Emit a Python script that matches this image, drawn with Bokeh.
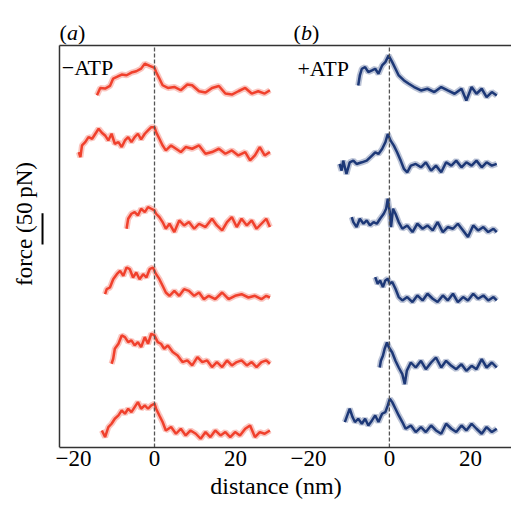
from bokeh.plotting import figure
from bokeh.models import Range1d, LinearAxis, FixedTicker, Label
from bokeh.embed import file_html
from bokeh.resources import INLINE

# ---------------- data: distance (nm) and force (pN, relative to each trace's baseline)
# panel (a) -ATP
a1_x = [-14.2,-13.4,-12.2,-11.0,-10.2,-9.3,-8.1,-6.9,-5.7,-4.5,-3.3,-2.4,-1.2,0.0,0.4,1.2,2.0,3.3,4.9,6.5,8.1,9.3,11.0,12.6,14.2,15.9,17.5,19.1,20.7,22.4,24.0,25.6,27.2,28.5]
a1_f = [-6.4,5.3,4.3,8.5,20.3,22.9,26.7,25.6,29.9,32.0,36.2,44.2,40.5,37.3,30.9,20.3,9.6,5.3,6.9,1.6,10.7,9.6,0,-2.1,5.3,8.5,-3.7,-5.3,0,5.3,-3.7,0,-3.7,1.6]
a2_x = [-18.7,-18.3,-17.9,-17.1,-16.3,-15.4,-14.6,-13.8,-13.0,-12.2,-11.4,-10.6,-9.8,-8.9,-8.1,-7.3,-6.5,-5.7,-4.9,-4.1,-3.3,-2.4,-1.6,-0.8,0.0,0.4,1.2,2.0,2.8,4.1,5.3,6.5,7.7,9.3,11.0,12.6,14.2,15.9,17.5,19.1,20.7,22.4,23.6,24.8,26.0,27.2,28.5]
a2_f = [2.7,-5.3,13.3,18.7,26.7,24.0,32.0,40.0,33.6,29.3,21.3,32.0,16.0,18.7,10.7,21.3,26.7,18.7,26.7,32.0,22.9,32.0,37.3,42.6,42.6,34.6,24.0,13.3,5.3,13.3,8.0,2.7,10.7,8.0,13.3,0,2.7,8.0,0,5.3,-2.7,2.7,-10.7,-2.7,10.7,-2.7,2.7]
a3_x = [-6.9,-6.5,-5.7,-4.9,-4.1,-3.3,-2.4,-1.6,-0.8,0.0,0.4,1.2,2.0,2.8,3.7,4.9,6.1,7.3,8.5,9.8,11.0,12.6,14.2,15.4,16.7,17.9,19.1,20.3,21.5,22.8,24.0,25.2,26.4,27.6,28.5]
a3_f = [-8.0,8.0,16.0,18.7,13.3,24.0,18.7,26.7,24.0,21.3,16.0,10.7,2.7,-8.0,0,-13.3,5.3,-2.7,2.7,-8.0,0,-5.3,8.0,-2.7,-10.7,2.7,10.7,-5.3,8.0,-2.7,5.3,-8.0,0,8.0,-5.3]
a4_x = [-12.2,-11.8,-11.0,-10.2,-9.3,-8.5,-7.7,-6.9,-6.1,-5.3,-4.5,-3.7,-2.8,-2.0,-1.2,-0.4,0.4,1.2,2.0,2.8,3.7,4.9,6.1,7.3,8.5,9.8,11.0,12.2,13.4,15.0,16.7,18.3,19.9,21.5,23.2,24.8,26.4,27.6,28.5]
a4_f = [5.3,13.3,16.0,29.3,37.3,42.6,34.6,48.0,45.3,32.0,40.0,29.3,37.3,32.0,45.3,48.0,37.3,29.3,18.7,8.0,2.7,10.7,2.7,13.3,10.7,2.7,8.0,-2.7,2.7,-2.7,8.0,-2.7,2.7,5.3,0,2.7,-2.7,2.7,0]
a5_x = [-10.6,-10.2,-9.8,-8.9,-8.1,-7.3,-6.5,-5.7,-4.9,-4.1,-3.3,-2.4,-1.6,-0.8,0.0,0.8,1.6,2.4,3.3,4.5,5.7,6.9,8.1,9.3,10.6,11.8,13.0,14.2,15.4,16.7,17.9,19.1,20.3,21.5,22.8,24.0,25.2,26.4,27.6,28.5]
a5_f = [0,8.0,24.0,32.0,45.3,42.6,34.6,37.3,29.3,34.6,26.7,42.6,32.0,48.0,45.3,34.6,32.0,24.0,29.3,18.7,13.3,2.7,5.3,-2.7,10.7,2.7,5.3,-5.3,2.7,-5.3,5.3,-2.7,2.7,5.3,-2.7,2.7,-5.3,2.7,5.3,0]
a6_x = [-13.0,-12.2,-11.4,-10.6,-9.8,-8.9,-8.1,-7.3,-6.5,-5.7,-4.9,-4.1,-3.3,-2.4,-1.6,-0.8,0.0,0.4,1.2,2.0,2.8,4.1,5.3,6.5,7.7,8.9,10.2,11.4,12.6,13.8,15.0,16.3,17.5,18.7,19.9,21.1,22.4,23.6,24.8,26.0,27.2,28.5]
a6_f = [5.3,-5.3,10.7,16.0,24.0,29.3,37.3,32.0,40.0,34.6,42.6,50.6,40.0,45.3,40.0,45.3,48.0,40.0,29.3,18.7,5.3,10.7,0,8.0,-2.7,5.3,0,-8.0,2.7,-5.3,5.3,-2.7,2.7,-5.3,2.7,-2.7,8.0,13.3,-5.3,2.7,0,5.3]

# panel (b) +ATP
b1_x = [-7.7,-7.3,-6.8,-6.0,-5.2,-4.3,-3.5,-2.7,-1.8,-1.0,-0.2,0.7,1.5,2.3,3.6,4.8,6.1,7.8,9.4,11.1,12.8,14.4,16.1,17.8,19.0,20.3,21.5,22.8,24.0,25.3,26.5]
b1_f = [13.3,29.3,40.0,42.6,34.6,37.3,40.0,32.0,45.3,50.6,61.3,50.6,40.0,29.3,21.3,16.0,10.7,5.3,8.0,2.7,10.7,5.3,0,8.0,-10.7,10.7,0,8.0,-5.3,2.7,-2.7]
b2_x = [-12.3,-11.8,-11.4,-10.6,-9.8,-8.9,-8.1,-6.8,-5.6,-4.3,-3.5,-2.7,-1.8,-1.0,-0.4,0.3,1.1,1.9,2.8,3.6,4.4,5.3,6.5,7.8,9.0,10.3,11.5,12.8,14.0,15.3,16.5,17.8,19.0,20.3,21.5,22.8,24.0,25.3,26.5]
b2_f = [2.7,-8.0,8.0,-13.3,5.3,8.0,2.7,5.3,8.0,16.0,21.3,18.7,26.7,37.3,50.6,40.0,32.0,21.3,8.0,-5.3,-10.7,0,2.7,-2.7,5.3,-8.0,0,-10.7,5.3,0,8.0,-2.7,5.3,0,8.0,-2.7,5.3,0,2.7]
b3_x = [-9.3,-8.9,-8.1,-7.3,-6.4,-5.6,-4.8,-3.9,-3.1,-2.3,-1.4,-0.8,-0.4,0.1,0.4,0.9,1.5,2.3,3.2,4.4,5.7,6.9,8.2,9.4,10.7,11.9,13.2,14.4,15.7,16.9,18.2,19.4,20.7,21.9,23.2,24.4,25.7,26.5]
b3_f = [18.7,10.7,2.7,16.0,8.0,13.3,5.3,10.7,8.0,16.0,24.0,32.0,48.0,26.7,2.7,32.0,24.0,10.7,0,5.3,-5.3,8.0,0,5.3,-2.7,10.7,-5.3,2.7,0,8.0,-2.7,-13.3,5.3,-2.7,2.7,-5.3,0,-5.3]
b4_x = [-3.5,-2.9,-2.3,-1.6,-1.0,-0.4,0.1,0.7,1.5,2.3,3.2,4.4,5.7,6.9,8.2,9.4,10.7,11.9,13.2,14.4,15.7,16.9,18.2,19.4,20.7,21.9,23.2,24.4,25.7,26.5]
b4_f = [34.6,24.0,29.3,18.7,29.3,32.0,24.0,26.7,16.0,2.7,-2.7,2.7,-5.3,5.3,-2.7,8.0,0,-5.3,5.3,-2.7,8.0,-5.3,2.7,-2.7,8.0,0,5.3,-2.7,2.7,-2.7]
b5_x = [-2.4,-2.1,-1.6,-1.2,-0.6,-0.1,0.7,1.5,2.3,3.2,3.8,4.3,5.3,6.5,7.8,9.0,10.3,11.5,12.8,14.0,15.3,16.5,17.8,19.0,20.3,21.5,22.8,24.0,25.3,26.5]
b5_f = [0,10.7,18.7,29.3,40.0,32.0,24.0,10.7,0,-10.7,-26.7,-5.3,8.0,0,10.7,-2.7,8.0,16.0,0,10.7,2.7,-2.7,5.3,-5.3,2.7,-2.7,13.3,0,8.0,0]
b6_x = [-11.0,-10.4,-9.8,-9.1,-8.5,-7.7,-6.8,-6.0,-5.2,-4.3,-3.5,-2.7,-1.8,-1.0,-0.4,0.1,0.7,1.5,2.3,3.2,4.0,5.3,6.5,7.8,9.0,10.3,11.5,12.8,14.0,15.3,16.5,17.8,19.0,20.3,21.5,22.8,24.0,25.3,26.5]
b6_f = [10.7,21.3,32.0,18.7,10.7,16.0,8.0,16.0,5.3,13.3,21.3,10.7,24.0,26.7,37.3,48.0,42.6,32.0,21.3,10.7,0,5.3,-5.3,2.7,-5.3,5.3,-2.7,-8.0,8.0,0,-5.3,5.3,-2.7,8.0,0,-8.0,2.7,-5.3,0]

# vertical stacking of traces (pN)
a_offsets = [570, 470, 358, 240, 134, 22]
b_offsets = [566, 451, 350, 238, 128, 30]

tick_values = [-20, 0, 20]
tick_labels = ["\u221220", "0", "20"]
scale_bar_pN = 50

# ---------------- layout constants
B_SHIFT = 58            # panel (b) drawn to the right of panel (a)
BOX_LEFT = -23.46       # left edge of the plotting box
BOX_RIGHT = 88.15
BOX_TOP = 643.2
RED = "#f0402c"
BLUE = "#1d3877"
FONT = "'Liberation Serif', 'Times New Roman', serif"
LINE = "#333333"

p = figure(width=511, height=509, output_backend="svg", toolbar_location=None,
           x_range=Range1d(-28.15, BOX_RIGHT), y_range=Range1d(0, 715.2),
           x_axis_location=None, y_axis_location=None,
           min_border_left=40, min_border_right=0, min_border_top=0, min_border_bottom=62)
p.outline_line_color = None
p.background_fill_color = "white"
p.border_fill_color = "white"
p.xgrid.visible = False
p.ygrid.visible = False

ticks = tick_values + [t + B_SHIFT for t in tick_values]
xa = LinearAxis(ticker=FixedTicker(ticks=ticks), axis_label="distance (nm)",
                bounds=(BOX_LEFT, BOX_RIGHT))
xa.major_label_overrides = {t: l for t, l in zip(ticks, tick_labels + tick_labels)}
ya = LinearAxis(ticker=FixedTicker(ticks=[]), axis_label="force (50\u2009pN)",
                bounds=(0, BOX_TOP))
for ax in (xa, ya):
    ax.major_tick_line_color = None
    ax.minor_tick_line_color = None
    ax.major_tick_out = 0
    ax.axis_line_color = LINE
    ax.axis_line_width = 1.5
    ax.major_label_text_font = FONT
    ax.major_label_text_font_size = "23px"
    ax.major_label_text_color = "black"
    ax.axis_label_text_font = FONT
    ax.axis_label_text_font_size = "23px"
    ax.axis_label_text_font_style = "normal"
    ax.axis_label_text_color = "black"
xa.axis_label_text_font_size = "24px"
ya.axis_line_color = None
xa.major_label_standoff = 3
xa.axis_label_standoff = 4
ya.axis_label_standoff = 4
ya.major_label_standoff = 0
p.add_layout(xa, "below")
p.add_layout(ya, "left")

# box: left and top borders
p.segment(x0=[BOX_LEFT, BOX_LEFT], y0=[0, BOX_TOP], x1=[BOX_LEFT, BOX_RIGHT], y1=[BOX_TOP, BOX_TOP],
          line_color=LINE, line_width=1.5)

# traces (soft halo + core line)
a_traces = [(a1_x, a1_f), (a2_x, a2_f), (a3_x, a3_f), (a4_x, a4_f), (a5_x, a5_f), (a6_x, a6_f)]
b_traces = [(b1_x, b1_f), (b2_x, b2_f), (b3_x, b3_f), (b4_x, b4_f), (b5_x, b5_f), (b6_x, b6_f)]
for (xs, fs), off in zip(a_traces, a_offsets):
    ys = [f + off for f in fs]
    p.line(xs, ys, line_color=RED, line_width=6, line_alpha=0.3)
    p.line(xs, ys, line_color=RED, line_width=2.5, line_alpha=1.0)
for (xs, fs), off in zip(b_traces, b_offsets):
    xs2 = [x + B_SHIFT for x in xs]
    ys = [f + off for f in fs]
    p.line(xs2, ys, line_color=BLUE, line_width=6, line_alpha=0.3)
    p.line(xs2, ys, line_color=BLUE, line_width=2.5, line_alpha=1.0)

# dashed zero lines
p.segment(x0=[0, B_SHIFT], y0=[0, 0], x1=[0, B_SHIFT], y1=[BOX_TOP, BOX_TOP],
          line_color="#555555", line_width=1.3, line_dash="4 2")

# 50 pN scale bar beside the force label
p.segment(x0=[-27.65], y0=[350 - scale_bar_pN / 2], x1=[-27.65], y1=[350 + scale_bar_pN / 2],
          line_color="black", line_width=2)

# panel labels
def add_label(x, y, text, style="normal", size="22px", xoff=0):
    p.add_layout(Label(x=x, y=y, text=text, text_font=FONT, text_font_size=size,
                       text_font_style=style, x_offset=xoff,
                       text_align="left", text_baseline="alphabetic", text_color="black"))

add_label(BOX_LEFT, 664, "(")
add_label(BOX_LEFT, 664, "a", style="italic", xoff=7.5)
add_label(BOX_LEFT, 664, ")", xoff=18.5)
add_label(34.3, 664, "(")
add_label(34.3, 664, "b", style="italic", xoff=7.5)
add_label(34.3, 664, ")", xoff=18.5)
add_label(-22.9, 608, "\u2212ATP")
add_label(35.3, 606, "+ATP")

open("out.html", "w").write(file_html(p, INLINE))
